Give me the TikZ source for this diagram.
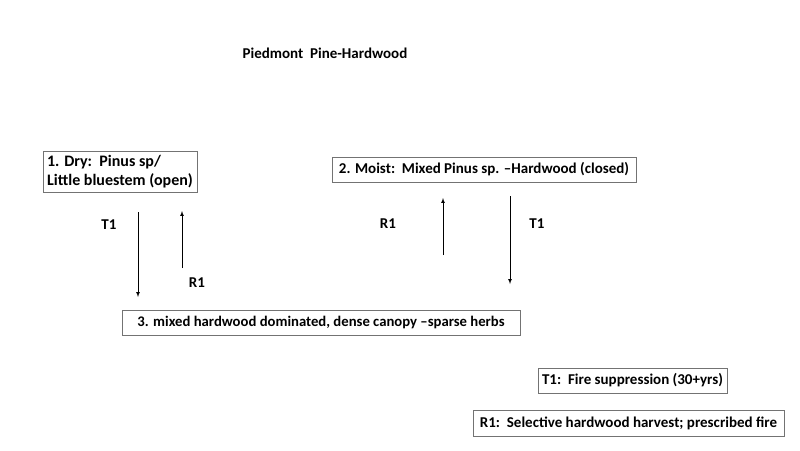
\documentclass[tikz,border=0pt]{standalone}
\usepackage{fontspec}
\setmainfont{Carlito}
\usetikzlibrary{arrows,shapes}

\tikzset{
  state/.style={draw=gray!90!black,line width=0.9pt,fill=white,inner sep=0pt,
    font=\fontsize{15}{19}\selectfont\bfseries},
  lbl/.style={font=\fontsize{15}{17}\selectfont\bfseries},
  trans/.style={draw=black,line width=0.7pt,-latex}
}

\begin{document}
\begin{tikzpicture}[x=1pt,y=-1pt]
\useasboundingbox (0,0) rectangle (800,450);
\node[lbl] (title) at (325,53) {Piedmont\ \ Pine-Hardwood};
% states
\node[state,minimum width=154pt,minimum height=41pt,align=left,
  font=\fontsize{16}{19.5}\selectfont\bfseries] (dry) at (120,171.5) {1. Dry:\ \ Pinus sp/\\Little bluestem (open)};
\node[state,minimum width=304pt,minimum height=25pt] (moist) at (484,169.5) {2. Moist:\ \ Mixed Pinus sp. --Hardwood (closed)};
\node[state,minimum width=398pt,minimum height=25pt,
  font=\fontsize{14.7}{19}\selectfont\bfseries] (hard) at (321,322.5) {3. mixed hardwood dominated, dense canopy --sparse herbs};
% legend
\node[state,minimum width=189pt,minimum height=25pt] (legT) at (632.5,380.5) {T1:\ \ Fire suppression (30+yrs)};
\node[state,minimum width=311pt,minimum height=26pt] (legR) at (628.5,423) {R1:\ \ Selective hardwood harvest; prescribed fire};
% arrow ends
\coordinate (a1) at (138,212);
\coordinate (a2) at (138,297);
\coordinate (b1) at (182,268);
\coordinate (b2) at (182,211);
\coordinate (c1) at (443,255);
\coordinate (c2) at (443,198);
\coordinate (d1) at (510,196);
\coordinate (d2) at (510,284);
\draw[trans] (a1) -- (a2);
\draw[trans] (b1) -- (b2);
\draw[trans] (c1) -- (c2);
\draw[trans] (d1) -- (d2);
\node[lbl] (t1a) at (109,225) {T1};
\node[lbl] (r1a) at (197,283) {R1};
\node[lbl] (r1b) at (388,224) {R1};
\node[lbl] (t1b) at (537,224) {T1};
\end{tikzpicture}
\end{document}
